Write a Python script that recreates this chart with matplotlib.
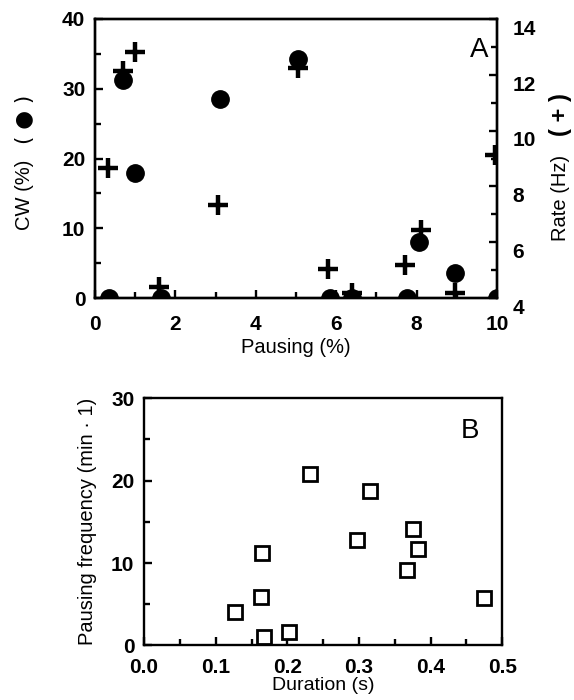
import matplotlib
matplotlib.use("Agg")
import matplotlib.pyplot as plt
from matplotlib.ticker import MultipleLocator
import matplotlib.transforms as mtransforms

plt.rcParams['font.family'] = ['Liberation Sans', 'DejaVu Sans']

# Panel A: CW (%) circles and rate (Hz) crosses against pausing (%)
cw_pausing = [0.35, 0.7, 1.0, 1.65, 3.1, 5.05, 5.85, 6.4, 7.75, 8.07, 8.95, 10.0]
cw_values = [0.0, 31.3, 17.9, 0.0, 28.5, 34.3, 0.0, 0.0, 0.0, 8.0, 3.6, 0.0]

rate_pausing = [0.33, 0.7, 1.0, 1.6, 3.05, 5.05, 5.8, 6.4, 7.7, 8.1, 8.95, 9.95]
rate_values = [8.66, 12.14, 12.8, 4.4, 7.33, 12.24, 5.04, 4.2, 5.18, 6.44, 4.2, 9.13]

# Panel B: pausing frequency against pause duration
duration = [0.127, 0.163, 0.164, 0.168, 0.203, 0.232, 0.315, 0.297, 0.376, 0.382, 0.367, 0.475]
frequency = [4.1, 5.9, 11.2, 1.0, 1.6, 20.8, 18.8, 12.8, 14.1, 11.7, 9.2, 5.8]

fig = plt.figure(figsize=(5.74, 7.0), dpi=100)

def style_axes(ax, lw=1.7):
    for s in ax.spines.values():
        s.set_linewidth(lw)
    ax.tick_params(which='both', direction='in', width=1.7, labelsize=15)
    ax.tick_params(which='major', length=6)
    ax.tick_params(which='minor', length=4)
    for lab in ax.get_xticklabels() + ax.get_yticklabels():
        lab.set_fontweight('bold')

# ---- panel A
ax = fig.add_axes([0.1655, 0.574, 0.7005, 0.399])
ax.plot(cw_pausing, cw_values, 'o', color='black', markersize=12.5, zorder=2)
ax.set_xlim(0, 10)
ax.set_ylim(0, 40)
ax.xaxis.set_major_locator(MultipleLocator(2))
ax.xaxis.set_minor_locator(MultipleLocator(1))
ax.yaxis.set_major_locator(MultipleLocator(10))
ax.yaxis.set_minor_locator(MultipleLocator(5))
ax.tick_params(top=False, right=False)
style_axes(ax)
ax.tick_params(axis='x', pad=12)
ax.tick_params(axis='y', pad=7)
ax.set_xlabel('Pausing (%)', fontsize=14.5, labelpad=3)
ax.text(0.955, 0.889, 'A', transform=ax.transAxes, fontsize=20, ha='center', va='center')

ax2 = ax.twinx()
ax2.plot(rate_pausing, rate_values, '+', color='black', markersize=14, mew=3.2, zorder=3)
ax2.set_ylim(4, 14)
ax2.yaxis.set_major_locator(MultipleLocator(2))
ax2.yaxis.set_minor_locator(MultipleLocator(1))
style_axes(ax2)
ax2.tick_params(axis='y', pad=11)
offset = mtransforms.ScaledTranslation(0, -6 / 72, fig.dpi_scale_trans)
for lab in ax2.get_yticklabels():
    lab.set_transform(lab.get_transform() + offset)

# side labels of panel A, with the marker symbols in brackets
fig.text(25 / 574, 1 - 195 / 700, 'CW (%)', rotation=90, fontsize=14.5,
         ha='center', va='center')
fig.text(25 / 574, 1 - 119 / 700, '( \u25cf )', rotation=90, fontsize=15.5,
         family=['DejaVu Sans'], ha='center', va='center')
fig.text(560 / 574, 1 - 198 / 700, 'Rate (Hz)', rotation=90, fontsize=14.5,
         ha='center', va='center')
fig.text(560 / 574, 1 - 115 / 700, '( + )', rotation=90, fontsize=17,
         fontweight='bold', ha='center', va='center')

# ---- panel B
bx = fig.add_axes([0.251, 0.078, 0.624, 0.353])
bx.plot(duration, frequency, 's', markerfacecolor='white', markeredgecolor='black',
        markersize=10.5, mew=2.0)
bx.set_xlim(0, 0.5)
bx.set_ylim(0, 30)
bx.xaxis.set_major_locator(MultipleLocator(0.1))
bx.xaxis.set_minor_locator(MultipleLocator(0.05))
bx.yaxis.set_major_locator(MultipleLocator(10))
bx.yaxis.set_minor_locator(MultipleLocator(5))
bx.xaxis.set_major_formatter(plt.FuncFormatter(lambda v, p: '%.1f' % v))
bx.tick_params(top=False, right=False)
style_axes(bx)
bx.tick_params(axis='x', pad=9)
bx.tick_params(axis='y', pad=7)
bx.set_xlabel('Duration (s)', fontsize=14, labelpad=0)
bx.set_ylabel('Pausing frequency (min \u00b7 1)', fontsize=14.5, labelpad=10)
bx.text(0.91, 0.867, 'B', transform=bx.transAxes, fontsize=20, ha='center', va='center')

fig.savefig('out.png', dpi=100)
